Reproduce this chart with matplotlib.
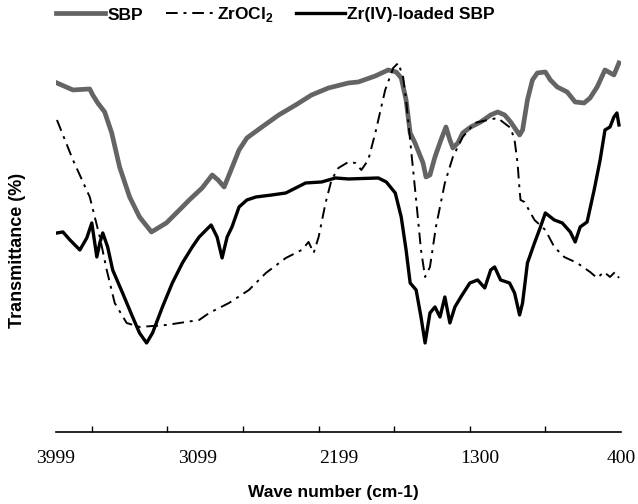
import matplotlib.pyplot as plt
from matplotlib.lines import Line2D

plt.rcParams['mathtext.fontset'] = 'custom'
plt.rcParams['mathtext.rm'] = 'Liberation Sans:bold'
plt.rcParams['mathtext.bf'] = 'Liberation Sans:bold'

# FTIR spectra, wave number (cm-1) vs transmittance (arbitrary %)
sbp_wn = [3993, 3891, 3784, 3765, 3733, 3689, 3644, 3594, 3530, 3467, 3391, 3296,
          3194, 3150, 3068, 3004, 2967, 2928, 2884, 2833, 2783, 2687, 2580, 2472,
          2371, 2263, 2136, 2073, 1965, 1883, 1832, 1800, 1769, 1743, 1712, 1661,
          1642, 1617, 1585, 1547, 1515, 1490, 1471, 1439, 1408, 1357, 1294, 1230,
          1186, 1141, 1103, 1046, 1027, 996, 964, 933, 882, 850, 806, 743, 692,
          635, 597, 552, 502, 445, 413]
sbp_t = [86.75, 85, 85.25, 83.75, 81.75, 79.5, 74.25, 65.75, 58.25, 53.25, 49.5, 51.75,
         55.75, 57.5, 60.5, 63.75, 62.5, 60.75, 65, 70, 73, 75.75, 78.75, 81.25,
         83.75, 85.5, 86.75, 87, 88.5, 90, 89.5, 88, 82.5, 74.25, 71.75, 66.75,
         63.25, 63.75, 68.25, 72.5, 75.75, 72.5, 70.5, 71.75, 74.25, 75.75, 77, 78.75,
         79.5, 78.75, 77, 73.75, 75, 82.5, 87.5, 89.25, 89.5, 87.5, 85.75, 84.5, 82,
         81.75, 83, 85.75, 90, 88.75, 91.75]

zr_wn = [3993, 3891, 3784, 3720, 3676, 3625, 3549, 3467, 3296, 3087, 3023, 2897,
         2770, 2662, 2535, 2434, 2390, 2358, 2326, 2282, 2244, 2200, 2136, 2092,
         2054, 2010, 1965, 1902, 1851, 1819, 1788, 1769, 1737, 1705, 1674, 1648,
         1617, 1579, 1522, 1471, 1408, 1332, 1249, 1186, 1103, 1078, 1059, 1046,
         1040, 1015, 951, 882, 825, 762, 679, 597, 552, 508, 470, 438, 413]
zr_t = [77.5, 67.5, 58.25, 48.25, 40, 31.75, 26.75, 25.75, 26.25, 27.5, 29.25, 31.75,
        35, 39.25, 43, 45, 47, 44.25, 48.25, 56.75, 62.5, 65.5, 67, 66.75,
        65, 67.5, 74.25, 85, 90.5, 91.75, 88.25, 82.5, 70, 57.5, 45, 38.25,
        40.75, 50.75, 61.75, 68.25, 73.25, 76.75, 77.5, 78, 75.5, 72.5, 66.75, 60,
        57.5, 57, 52.5, 50, 45.75, 43.25, 41.75, 39.5, 38, 39.5, 38.25, 39.5, 38]

zr_sbp_wn = [3993, 3955, 3910, 3847, 3803, 3771, 3739, 3720, 3701, 3670, 3638, 3575,
             3511, 3467, 3422, 3384, 3321, 3258, 3194, 3131, 3087, 3011, 2973, 2941,
             2909, 2878, 2833, 2783, 2725, 2624, 2535, 2472, 2409, 2307, 2219, 2136,
             1946, 1895, 1838, 1800, 1769, 1743, 1705, 1674, 1648, 1617, 1585, 1553,
             1522, 1490, 1458, 1420, 1363, 1313, 1268, 1230, 1205, 1167, 1110, 1078,
             1046, 1027, 996, 951, 913, 882, 825, 774, 723, 692, 660, 616, 571, 533,
             502, 470, 445, 426, 413]
zr_sbp_t = [49.25, 49.5, 47.5, 45, 48, 51.75, 43.25, 46.75, 49.25, 45.75, 40, 34.25,
            28.25, 24.25, 21.75, 24.25, 30.75, 36.75, 41.75, 45.75, 48.25, 51.25, 48.25, 43,
            48.25, 50.75, 55.75, 57.5, 58.25, 58.75, 59.25, 60.5, 61.75, 62, 63, 62.75,
            63, 62, 59.25, 53.25, 45, 36.75, 35, 28.25, 21.75, 29.25, 30.75, 28.25,
            33.25, 26.75, 30.75, 33.25, 36.75, 37.5, 35.5, 40, 40.75, 37.5, 36.75, 34.25,
            28.75, 31.75, 41.75, 46.75, 50.75, 54.25, 52.5, 51.75, 49.5, 47, 50.75, 52, 60, 67.5,
            75, 75.75, 78.25, 79.25, 76.25]

tick_labels = [3999, 3099, 2199, 1300, 400]
minor_ticks = [400, 881.5, 1363, 1844.5, 2326, 2807.5, 3289, 3770.5]

fig = plt.figure(figsize=(6.38, 5.04), dpi=100)
ax = fig.add_axes([56/638, 0.1429, 565/638, 0.7778])

gray = '#646464'
dashdot = (0, (6, 3, 1.5, 3))
ax.plot(sbp_wn, sbp_t, color=gray, lw=3.4, solid_joinstyle='round')
ax.plot(zr_wn, zr_t, color='black', lw=1.4, linestyle=dashdot)
ax.plot(zr_sbp_wn, zr_sbp_t, color='black', lw=2.4, solid_joinstyle='round')

ax.set_xlim(3999, 400)
ax.set_ylim(-0.5, 97.5)
for s in ['left', 'right', 'top']:
    ax.spines[s].set_visible(False)
ax.spines['bottom'].set_linewidth(1.2)
ax.set_yticks([])
ax.set_xticks(tick_labels)
ax.set_xticklabels([str(t) for t in tick_labels], family='Liberation Serif', fontsize=14)
ax.tick_params(axis='x', which='major', length=0, pad=13)
ax.set_xticks(minor_ticks, minor=True)
ax.tick_params(axis='x', which='minor', direction='in', length=4.5, width=1)

fig.text(0.522, 1 - 492/504, 'Wave number (cm-1)', ha='center', va='center',
         family='Liberation Sans', fontweight='bold', fontsize=12.5)
fig.text(18/638, 1 - 250/504, 'Transmittance (%)', ha='center', va='center',
         rotation=90, family='Liberation Sans', fontweight='bold', fontsize=13)

handles = [Line2D([], [], color=gray, lw=3.4),
           Line2D([], [], color='black', lw=1.4, linestyle=dashdot),
           Line2D([], [], color='black', lw=2.4)]
labels = ['SBP', r'ZrOCl$_\mathbf{2}$', 'Zr(IV)-loaded SBP']
fig.legend(handles, labels, loc='center', bbox_to_anchor=(0.432, 1 - 15/504), ncol=3,
           frameon=False, handlelength=2.8, handletextpad=0.15, columnspacing=1.3,
           prop={'family': 'Liberation Sans', 'weight': 'bold', 'size': 12.5})

fig.savefig('out.png', dpi=100)
